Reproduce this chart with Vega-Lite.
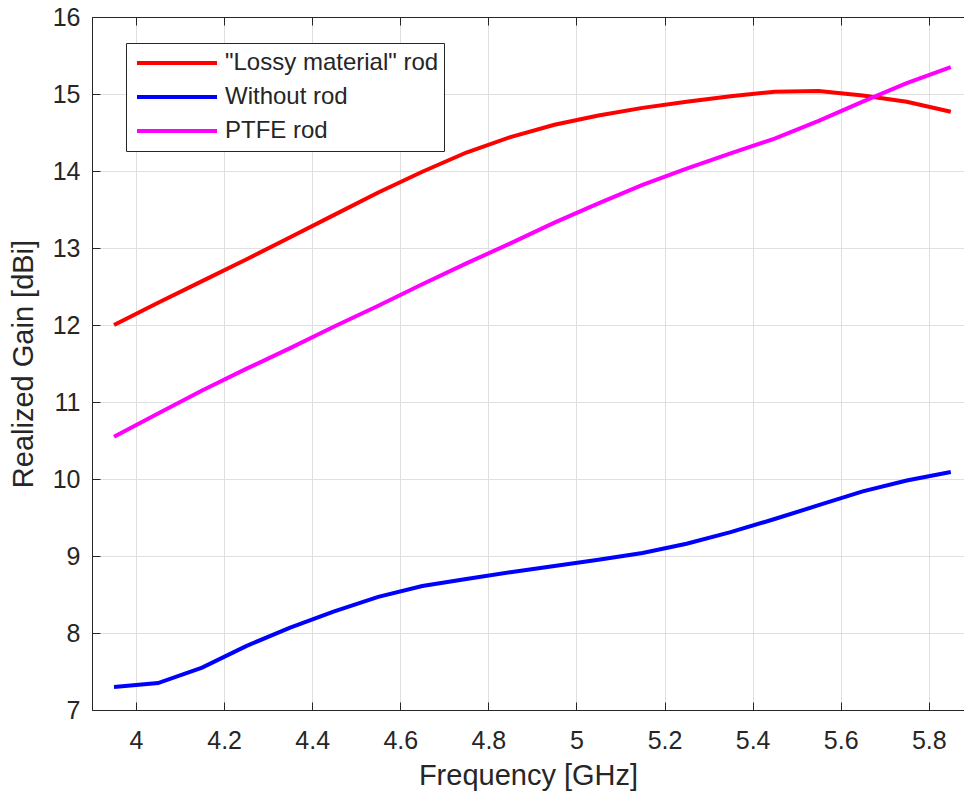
{
  "$schema": "https://vega.github.io/schema/vega-lite/v6.json",
  "autosize": {"type": "none"},
  "padding": {"left": 92, "top": 17, "right": 0, "bottom": 88},
  "width": 872,
  "height": 693,
  "background": "white",
  "config": {
    "font": "Liberation Sans",
    "view": {"stroke": "#262626", "strokeWidth": 1},
    "axis": {
      "labelFont": "Liberation Sans",
      "titleFont": "Liberation Sans",
      "labelColor": "#262626",
      "titleColor": "#262626",
      "labelFontSize": 25,
      "titleFontSize": 29,
      "titleFontWeight": "normal",
      "domainColor": "#262626",
      "tickColor": "#262626",
      "tickSize": -8,
      "gridColor": "#dfdfdf",
      "gridOpacity": 1,
      "gridWidth": 1
    },
    "legend": {
      "labelFont": "Liberation Sans",
      "labelColor": "#262626",
      "labelFontSize": 24,
      "labelLimit": 0
    }
  },
  "data": {
    "values": [
      {"f": 3.95, "series": "\"Lossy material\" rod", "gain": 12.0},
      {"f": 4.05, "series": "\"Lossy material\" rod", "gain": 12.29},
      {"f": 4.15, "series": "\"Lossy material\" rod", "gain": 12.57},
      {"f": 4.25, "series": "\"Lossy material\" rod", "gain": 12.85},
      {"f": 4.35, "series": "\"Lossy material\" rod", "gain": 13.14},
      {"f": 4.45, "series": "\"Lossy material\" rod", "gain": 13.43},
      {"f": 4.55, "series": "\"Lossy material\" rod", "gain": 13.72},
      {"f": 4.65, "series": "\"Lossy material\" rod", "gain": 13.99},
      {"f": 4.75, "series": "\"Lossy material\" rod", "gain": 14.24},
      {"f": 4.85, "series": "\"Lossy material\" rod", "gain": 14.44},
      {"f": 4.95, "series": "\"Lossy material\" rod", "gain": 14.6},
      {"f": 5.05, "series": "\"Lossy material\" rod", "gain": 14.72},
      {"f": 5.15, "series": "\"Lossy material\" rod", "gain": 14.82},
      {"f": 5.25, "series": "\"Lossy material\" rod", "gain": 14.9},
      {"f": 5.35, "series": "\"Lossy material\" rod", "gain": 14.97},
      {"f": 5.45, "series": "\"Lossy material\" rod", "gain": 15.03},
      {"f": 5.55, "series": "\"Lossy material\" rod", "gain": 15.04},
      {"f": 5.65, "series": "\"Lossy material\" rod", "gain": 14.98},
      {"f": 5.75, "series": "\"Lossy material\" rod", "gain": 14.9},
      {"f": 5.85, "series": "\"Lossy material\" rod", "gain": 14.77},
      {"f": 3.95, "series": "Without rod", "gain": 7.3},
      {"f": 4.05, "series": "Without rod", "gain": 7.35},
      {"f": 4.15, "series": "Without rod", "gain": 7.55},
      {"f": 4.25, "series": "Without rod", "gain": 7.83},
      {"f": 4.35, "series": "Without rod", "gain": 8.07},
      {"f": 4.45, "series": "Without rod", "gain": 8.28},
      {"f": 4.55, "series": "Without rod", "gain": 8.47},
      {"f": 4.65, "series": "Without rod", "gain": 8.61},
      {"f": 4.75, "series": "Without rod", "gain": 8.7},
      {"f": 4.85, "series": "Without rod", "gain": 8.79},
      {"f": 4.95, "series": "Without rod", "gain": 8.87},
      {"f": 5.05, "series": "Without rod", "gain": 8.95},
      {"f": 5.15, "series": "Without rod", "gain": 9.04},
      {"f": 5.25, "series": "Without rod", "gain": 9.16},
      {"f": 5.35, "series": "Without rod", "gain": 9.31},
      {"f": 5.45, "series": "Without rod", "gain": 9.48},
      {"f": 5.55, "series": "Without rod", "gain": 9.66},
      {"f": 5.65, "series": "Without rod", "gain": 9.84},
      {"f": 5.75, "series": "Without rod", "gain": 9.98},
      {"f": 5.85, "series": "Without rod", "gain": 10.09},
      {"f": 3.95, "series": "PTFE rod", "gain": 10.55},
      {"f": 4.05, "series": "PTFE rod", "gain": 10.85},
      {"f": 4.15, "series": "PTFE rod", "gain": 11.15},
      {"f": 4.25, "series": "PTFE rod", "gain": 11.43},
      {"f": 4.35, "series": "PTFE rod", "gain": 11.7},
      {"f": 4.45, "series": "PTFE rod", "gain": 11.98},
      {"f": 4.55, "series": "PTFE rod", "gain": 12.25},
      {"f": 4.65, "series": "PTFE rod", "gain": 12.53},
      {"f": 4.75, "series": "PTFE rod", "gain": 12.8},
      {"f": 4.85, "series": "PTFE rod", "gain": 13.06},
      {"f": 4.95, "series": "PTFE rod", "gain": 13.33},
      {"f": 5.05, "series": "PTFE rod", "gain": 13.58},
      {"f": 5.15, "series": "PTFE rod", "gain": 13.82},
      {"f": 5.25, "series": "PTFE rod", "gain": 14.03},
      {"f": 5.35, "series": "PTFE rod", "gain": 14.23},
      {"f": 5.45, "series": "PTFE rod", "gain": 14.42},
      {"f": 5.55, "series": "PTFE rod", "gain": 14.65},
      {"f": 5.65, "series": "PTFE rod", "gain": 14.9},
      {"f": 5.75, "series": "PTFE rod", "gain": 15.14},
      {"f": 5.85, "series": "PTFE rod", "gain": 15.35}
    ]
  },
  "layer": [
    {
      "mark": {"type": "line", "strokeWidth": 4, "clip": true},
      "encoding": {
        "x": {
          "field": "f", "type": "quantitative",
          "scale": {"domain": [3.9, 5.88], "nice": false, "zero": false},
          "axis": {"title": "Frequency [GHz]", "values": [4, 4.2, 4.4, 4.6, 4.8, 5, 5.2, 5.4, 5.6, 5.8], "labelPadding": 26, "titlePadding": 8, "format": "~g"}
        },
        "y": {
          "field": "gain", "type": "quantitative",
          "scale": {"domain": [7, 16], "nice": false, "zero": false},
          "axis": {"title": "Realized Gain [dBi]", "values": [7, 8, 9, 10, 11, 12, 13, 14, 15, 16], "format": "d", "labelPadding": 20, "titlePadding": 14}
        },
        "color": {
          "field": "series", "type": "nominal",
          "scale": {"domain": ["\"Lossy material\" rod", "Without rod", "PTFE rod"], "range": ["#ff0000", "#0000ff", "#ff00ff"]},
          "legend": {
            "title": null,
            "orient": "none",
            "legendX": 34,
            "legendY": 26,
            "symbolType": "stroke",
            "symbolSize": 6400,
            "symbolStrokeWidth": 4,
            "symbolOffset": 4,
            "clipHeight": 30,
            "rowPadding": 4,
            "labelOffset": 6,
            "padding": 5,
            "strokeColor": "#262626",
            "fillColor": "white"
          }
        },
        "detail": {"field": "series"}
      }
    },
    {
      "mark": {"type": "line", "opacity": 0},
      "encoding": {
        "x": {
          "field": "f", "type": "quantitative",
          "axis": {"orient": "top", "title": null, "labels": false, "grid": false, "values": [4, 4.2, 4.4, 4.6, 4.8, 5, 5.2, 5.4, 5.6, 5.8]}
        },
        "y": {"field": "gain", "type": "quantitative"},
        "detail": {"field": "series"}
      }
    }
  ],
  "resolve": {"axis": {"x": "independent"}}
}
